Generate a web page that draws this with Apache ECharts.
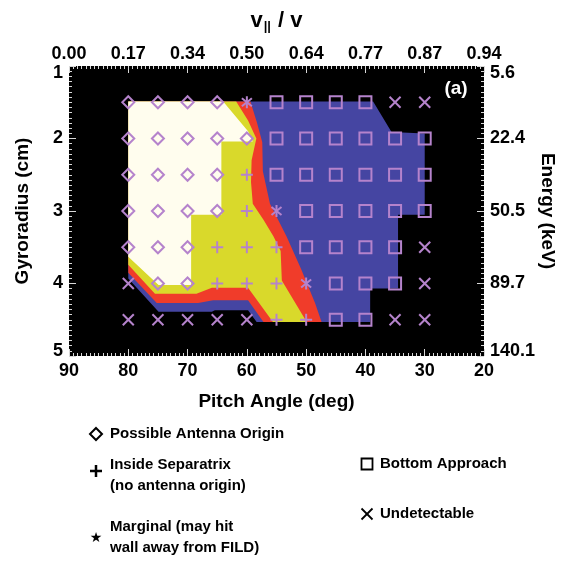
<!DOCTYPE html>
<html>
<head>
<meta charset="utf-8">
<script src="https://cdn.jsdelivr.net/npm/echarts@6/dist/echarts.min.js"></script>
<style>
  html, body { margin: 0; padding: 0; background: #fff; }
  #chart { width: 565px; height: 577px; }
</style>
</head>
<body>
<div id="chart"></div>
<script>
// Launch grid: pitch angle columns (deg) and gyroradius rows (cm)
const pitchAngles = [80, 75, 70, 65, 60, 55, 50, 45, 40, 35, 30];
const gyroRadii = [1.5, 2.0, 2.5, 3.0, 3.5, 4.0, 4.5];

// Orbit class at every grid point, one string per gyroradius row (pitch 80 -> 30)
// D possible antenna origin, P inside separatrix, S marginal, B bottom approach, X undetectable
const orbitClass = [
  'DDDDSBBBBXX',
  'DDDDDBBBBBB',
  'DDDDPBBBBBB',
  'DDDDPSBBBBB',
  'DDDPPPBBBBX',
  'XDDPPPSBBBX',
  'XXXXXPPBBXX'
];

// Tick labels
const pitchTicks = [90, 80, 70, 60, 50, 40, 30, 20];
const vparTicks = ['0.00', '0.17', '0.34', '0.50', '0.64', '0.77', '0.87', '0.94'];
const gyroTicks = [1, 2, 3, 4, 5];
const energyTicks = ['5.6', '22.4', '50.5', '89.7', '140.1'];

// Filled contour bands, outlines as [pitch, gyroradius]
const blueBand = [[80, 1.49], [38.7, 1.49], [35.6, 1.91], [30, 1.93], [30, 3.05], [34.5, 3.05],
  [34.5, 4.07], [39.2, 4.07], [39.2, 4.53], [58.35, 4.53], [59.8, 4.37], [65.4, 4.37],
  [65.9, 4.39], [74.9, 4.39], [80, 3.93]];
const redBand = [[80, 1.49], [59.4, 1.49], [58.3, 1.78], [57.4, 2.05], [57.3, 2.45], [56.1, 2.9],
  [53.3, 3.35], [50.8, 3.81], [48.5, 4.27], [47.4, 4.53], [57.2, 4.53], [59.8, 4.23],
  [65.7, 4.23], [68.2, 4.27], [75.2, 4.27], [80, 3.85]];
const yellowBand = [[80, 1.49], [61.8, 1.49], [59.8, 1.75], [58.4, 2.0], [59.2, 2.3], [59.3, 2.6],
  [59.0, 2.9], [57.2, 3.12], [55.5, 3.35], [54.3, 3.55], [54.1, 3.96], [49.9, 4.53],
  [55.6, 4.53], [59.8, 4.06], [65.9, 4.06], [68.5, 4.14], [75.5, 4.14], [80, 3.74]];
const whiteBand = [[80, 1.49], [64.0, 1.49], [59.8, 1.9], [59.0, 2.04], [64.3, 2.04], [64.3, 3.05],
  [69.4, 3.05], [69.4, 4.02], [74.9, 4.02], [80, 3.63]];

const bands = [
  { outline: blueBand, color: '#4545a2' },
  { outline: redBand, color: '#f03c2a' },
  { outline: yellowBand, color: '#d9d92b' },
  { outline: whiteBand, color: '#fffdee' }
];

const markerKinds = ['D', 'P', 'S', 'B', 'X'];
const markerColor = '#b583cc';
const FONT = '"Liberation Sans", Arial, Helvetica, sans-serif';

const markerData = [];
orbitClass.forEach((row, r) => {
  row.split('').forEach((code, c) => {
    markerData.push([pitchAngles[c], gyroRadii[r], markerKinds.indexOf(code)]);
  });
});

function markerShape(kind, x, y) {
  const h = 6;
  const st = { stroke: markerColor, lineWidth: 2, fill: 'none' };
  const line = (x1, y1, x2, y2) => ({ type: 'line', shape: { x1, y1, x2, y2 }, style: st });
  switch (markerKinds[kind]) {
    case 'D':
      return [{ type: 'polygon', shape: { points: [[x, y - h], [x + h, y], [x, y + h], [x - h, y]] }, style: st }];
    case 'B':
      return [{ type: 'rect', shape: { x: x - h, y: y - h, width: 2 * h, height: 2 * h }, style: st }];
    case 'P':
      return [line(x - h, y, x + h, y), line(x, y - h, x, y + h)];
    case 'X':
      return [line(x - 5.5, y - 5.5, x + 5.5, y + 5.5), line(x - 5.5, y + 5.5, x + 5.5, y - 5.5)];
    case 'S':
      return [line(x, y - h, x, y + h), line(x - 5, y - 4, x + 5, y + 4), line(x - 5, y + 4, x + 5, y - 4)];
  }
  return [];
}

const labelStyle = { fontFamily: FONT, fontWeight: 'bold', fontSize: 18, color: '#000' };
const nameStyle = { fontFamily: FONT, fontWeight: 'bold', fontSize: 19, color: '#000' };
const edgeRich = {
  lo: { fontFamily: FONT, fontWeight: 'bold', fontSize: 18, color: '#000', padding: [14, 0, 0, 0] },
  hi: { fontFamily: FONT, fontWeight: 'bold', fontSize: 18, color: '#000', padding: [0, 0, 10, 0] }
};
const tickCommon = {
  axisLine: { show: false },
  axisTick: { show: true, inside: true, length: 7, lineStyle: { color: '#d8d8d8', width: 1 } },
  minorTick: { show: true, splitNumber: 14, length: 3, lineStyle: { color: '#d8d8d8', width: 1 } },
  splitLine: { show: false }
};

const chart = echarts.init(document.getElementById('chart'), null, { renderer: 'canvas' });

chart.setOption({
  animation: false,
  backgroundColor: '#fff',
  grid: {
    left: 69, top: 66, width: 415, height: 290,
    show: true, backgroundColor: '#000', borderWidth: 0,
    containLabel: false, outerBoundsMode: 'none'
  },
  xAxis: [
    Object.assign({
      type: 'value', position: 'bottom', min: 20, max: 90, interval: 10, inverse: true,
      name: 'Pitch Angle (deg)', nameLocation: 'middle', nameGap: 36, nameMoveOverlap: false,
      nameTextStyle: nameStyle,
      axisLabel: Object.assign({ margin: 6, formatter: v => String(pitchTicks[pitchTicks.indexOf(v)]) }, labelStyle)
    }, tickCommon),
    Object.assign({
      type: 'value', position: 'top', min: 20, max: 90, interval: 10, inverse: true,
      name: '{v|v}{s|||}{v| / v}', nameLocation: 'middle', nameGap: 33, nameMoveOverlap: false,
      nameTextStyle: {
        rich: {
          v: { fontFamily: FONT, fontWeight: 'bold', fontSize: 22, color: '#000' },
          s: { fontFamily: FONT, fontWeight: 'bold', fontSize: 13, color: '#000', padding: [12, 1, 0, 1] }
        }
      },
      axisLabel: Object.assign({ margin: 3, formatter: v => vparTicks[pitchTicks.indexOf(v)] }, labelStyle)
    }, tickCommon)
  ],
  yAxis: [
    Object.assign({
      type: 'value', position: 'left', min: 1, max: 5, interval: 1, inverse: true,
      name: 'Gyroradius (cm)', nameLocation: 'middle', nameGap: 37, nameMoveOverlap: false,
      nameTextStyle: nameStyle,
      axisLabel: Object.assign({
        margin: 6, rich: edgeRich,
        formatter: v => {
          const t = String(gyroTicks[gyroTicks.indexOf(v)]);
          return v === 1 ? '{lo|' + t + '}' : v === 5 ? '{hi|' + t + '}' : t;
        }
      }, labelStyle)
    }, tickCommon),
    Object.assign({
      type: 'value', position: 'right', min: 1, max: 5, interval: 1, inverse: true,
      name: 'Energy (keV)', nameLocation: 'middle', nameGap: 54, nameRotate: -90, nameMoveOverlap: false,
      nameTextStyle: nameStyle,
      axisLabel: Object.assign({
        margin: 6, rich: edgeRich,
        formatter: v => {
          const t = energyTicks[gyroTicks.indexOf(v)];
          return v === 1 ? '{lo|' + t + '}' : v === 5 ? '{hi|' + t + '}' : t;
        }
      }, labelStyle)
    }, tickCommon)
  ],
  graphic: [
    { type: 'text', x: 456, y: 89, z: 100,
      style: { text: '(a)', font: 'bold 19px ' + FONT, fill: '#fff', align: 'center', verticalAlign: 'middle' } },

    // legend entries
    { type: 'polygon', x: 96, y: 434, shape: { points: [[0, -6], [6, 0], [0, 6], [-6, 0]] },
      style: { stroke: '#000', lineWidth: 2, fill: 'none' } },
    { type: 'text', x: 110, y: 434,
      style: { text: 'Possible Antenna Origin', font: 'bold 15px ' + FONT, fill: '#000', verticalAlign: 'middle' } },

    { type: 'line', x: 96, y: 471, shape: { x1: -6, y1: 0, x2: 6, y2: 0 }, style: { stroke: '#000', lineWidth: 2.5 } },
    { type: 'line', x: 96, y: 471, shape: { x1: 0, y1: -6, x2: 0, y2: 6 }, style: { stroke: '#000', lineWidth: 2.5 } },
    { type: 'text', x: 110, y: 454,
      style: { text: 'Inside Separatrix\n(no antenna origin)', font: 'bold 15px ' + FONT, lineHeight: 21, fill: '#000', verticalAlign: 'top' } },

    { type: 'text', x: 96, y: 538,
      style: { text: '\u2605', font: '14px "DejaVu Sans"', fill: '#000', align: 'center', verticalAlign: 'middle' } },
    { type: 'text', x: 110, y: 516,
      style: { text: 'Marginal (may hit\nwall away from FILD)', font: 'bold 15px ' + FONT, lineHeight: 21, fill: '#000', verticalAlign: 'top' } },

    { type: 'rect', x: 367, y: 464, shape: { x: -5.5, y: -5.5, width: 11, height: 11 },
      style: { stroke: '#000', lineWidth: 1.8, fill: 'none' } },
    { type: 'text', x: 380, y: 464,
      style: { text: 'Bottom Approach', font: 'bold 15px ' + FONT, fill: '#000', verticalAlign: 'middle' } },

    { type: 'line', x: 367, y: 514, shape: { x1: -5.5, y1: -5.5, x2: 5.5, y2: 5.5 }, style: { stroke: '#000', lineWidth: 1.8 } },
    { type: 'line', x: 367, y: 514, shape: { x1: -5.5, y1: 5.5, x2: 5.5, y2: -5.5 }, style: { stroke: '#000', lineWidth: 1.8 } },
    { type: 'text', x: 380, y: 514,
      style: { text: 'Undetectable', font: 'bold 15px ' + FONT, fill: '#000', verticalAlign: 'middle' } }
  ],
  series: [
    {
      type: 'custom',
      name: 'bands',
      xAxisIndex: 0, yAxisIndex: 0,
      silent: true,
      data: bands.map(b => b.outline[0]),
      renderItem: (params, api) => {
        const band = bands[params.dataIndex];
        return {
          type: 'polygon',
          shape: { points: band.outline.map(p => api.coord(p)) },
          style: { fill: band.color }
        };
      }
    },
    {
      type: 'custom',
      name: 'orbits',
      xAxisIndex: 0, yAxisIndex: 0,
      silent: true,
      z: 3,
      data: markerData,
      encode: { x: 0, y: 1 },
      renderItem: (params, api) => {
        const pt = api.coord([api.value(0), api.value(1)]);
        return { type: 'group', children: markerShape(api.value(2), pt[0], pt[1]) };
      }
    }
  ]
});
</script>
</body>
</html>
